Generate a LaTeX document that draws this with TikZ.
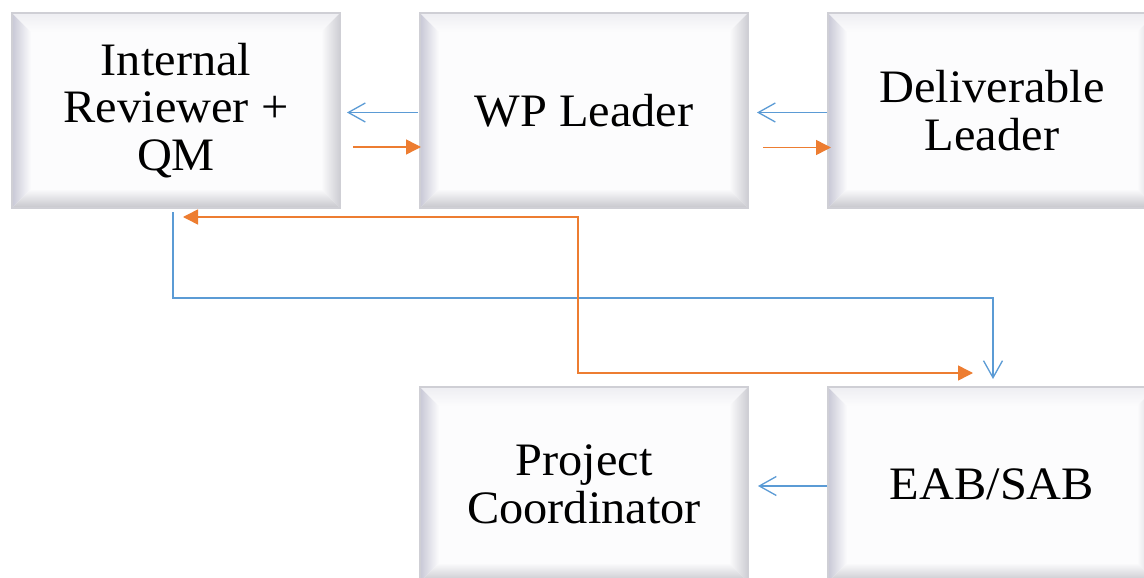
\documentclass[tikz,border=0pt]{standalone}
\usepackage{fontspec}
\setmainfont[FakeStretch=1.04]{Liberation Serif}
\usetikzlibrary{arrows.meta,calc}

\definecolor{facecol}{HTML}{FCFCFD}
\definecolor{rimcol}{HTML}{CFCFD5}
\definecolor{bevL}{HTML}{C8C8D6}
\definecolor{bevT}{HTML}{EEEEF2}
\definecolor{bevR}{HTML}{CDCDD3}
\definecolor{bevB}{HTML}{C6C6CC}
\definecolor{linkblue}{HTML}{5B9BD5}
\definecolor{linkorange}{HTML}{ED7D31}

\tikzset{
  bevelbox/.style={
    draw=rimcol, line width=1.6pt, fill=facecol,
    minimum width=328pt, minimum height=195pt,
    inner sep=0pt, outer sep=0pt, align=center,
    font=\fontsize{46.5}{47.5}\selectfont,
    path picture={
      \coordinate (bvSW) at (path picture bounding box.south west);
      \coordinate (bvNE) at (path picture bounding box.north east);
      \coordinate (bvNW) at (bvSW |- bvNE);
      \coordinate (bvSE) at (bvNE |- bvSW);
      % four bevelled rims around the flat face
      \shade[left color=bevL, right color=facecol]
        (bvSW) -- ($(bvSW)+(19,19)$) -- ($(bvNW)+(19,-19)$) -- (bvNW) -- cycle;
      \shade[top color=bevT, bottom color=facecol]
        (bvNW) -- (bvNE) -- ($(bvNE)+(-19,-19)$) -- ($(bvNW)+(19,-19)$) -- cycle;
      \shade[left color=facecol, right color=bevR]
        (bvNE) -- (bvSE) -- ($(bvSE)+(-19,19)$) -- ($(bvNE)+(-19,-19)$) -- cycle;
      \shade[top color=facecol, bottom color=bevB]
        (bvSW) -- (bvSE) -- ($(bvSE)+(-19,19)$) -- ($(bvSW)+(19,19)$) -- cycle;
    }
  },
  bluelink/.style={draw=linkblue, line width=1.3pt,
    -{Straight Barb[length=17pt,width=19pt,line width=1.3pt]}},
  orangelink/.style={draw=linkorange, line width=1.5pt,
    -{Triangle[length=15pt,width=15pt]}},
  orangetwoway/.style={draw=linkorange, line width=1.5pt,
    {Triangle[length=15pt,width=15pt]}-{Triangle[length=15pt,width=15pt]}},
}

\begin{document}
\begin{tikzpicture}[x=1pt,y=1pt]
\useasboundingbox (0,0) rectangle (1144,-578);
\fill[white] (0,0) rectangle (1144,-578);

% boxes
\node[bevelbox] (ir)  at (176,-110.5) {Internal\\Reviewer +\\QM};
\node[bevelbox] (wp)  at (584,-110.5) {WP Leader};
\node[bevelbox] (dl)  at (992,-110.5) {Deliverable\\Leader};
\node[bevelbox] (pc)  at (584,-484.5) {Project\\Coordinator};
\node[bevelbox] (eab) at (992,-484.5) {EAB/SAB};

% horizontal links between neighbours
\draw[bluelink]   ([xshift=-2,yshift=-2]wp.west)   -- ([xshift=7,yshift=-2]ir.east);
\draw[orangelink] ([xshift=13,yshift=-36.5]ir.east) -- ([xshift=1,yshift=-36.5]wp.west);
\draw[bluelink]   ([xshift=-1,yshift=-2]dl.west)   -- ([xshift=9,yshift=-2]wp.east);
\draw[orangelink] ([xshift=15,yshift=-37]wp.east)  -- ([xshift=3,yshift=-37]dl.west);
\draw[bluelink]   ([xshift=-1,yshift=-1.5]eab.west) -- ([xshift=10,yshift=-1.5]pc.east);

% elbow links to the board
\draw[bluelink] ([xshift=-3,yshift=-4]ir.south) -- ++(0,-86) -| ([xshift=1,yshift=8]eab.north);
\draw[orangetwoway] ([xshift=7,yshift=-9]ir.south) -- ++(395,0) |- ([xshift=-19,yshift=14]eab.north);
\end{tikzpicture}
\end{document}
